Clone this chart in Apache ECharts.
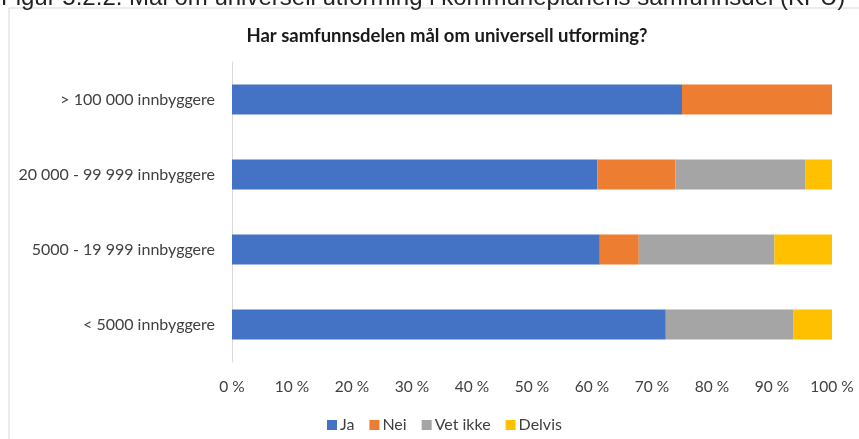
<!DOCTYPE html>
<html lang="no">

<head>
    <meta charset="UTF-8">
    <title>Universell utforming</title>
    <style>
        * {
            margin: 0;
            padding: 0;
        }

        .box {
            width: 859px;
            height: 439px;
        }
    </style>
</head>

<body>
    <div class="box"></div>

    <script src="https://cdn.jsdelivr.net/npm/echarts@6/dist/echarts.min.js"></script>
    <script>
        var categories = ['> 100 000 innbyggere', '20 000 - 99 999 innbyggere', '5000 - 19 999 innbyggere', '< 5000 innbyggere'];
        var ja = [75, 60.9, 61.3, 72.3];
        var nei = [25, 13.0, 6.5, 0];
        var vetIkke = [0, 21.7, 22.6, 21.3];
        var delvis = [0, 4.4, 9.6, 6.4];
        var seriesNames = ['Ja', 'Nei', 'Vet ikke', 'Delvis'];
        var colors = ['#4472c4', '#ed7d31', '#a5a5a5', '#ffc000'];

        var chart = echarts.init(document.querySelector('.box'));
        var font = 'Lato, "Open Sans", sans-serif';

        function makeSeries(name, data) {
            return {
                name: name,
                type: 'bar',
                stack: 'total',
                barWidth: 30,
                data: data
            };
        }

        var option = {
            color: colors,
            animation: false,
            title: {
                text: 'Har samfunnsdelen mål om universell utforming?',
                left: 442,
                textAlign: 'center',
                top: 22,
                textStyle: {
                    fontFamily: font,
                    fontSize: 18.5,
                    fontWeight: 'bold',
                    color: '#1a1a1a'
                }
            },
            graphic: [
                {
                    // figure caption, cut off at the top edge
                    type: 'text',
                    left: 1,
                    top: -14,
                    style: {
                        text: 'Figur 5.2.2. Mål om universell utforming i kommuneplanens samfunnsdel (KPU)',
                        font: '24px "Liberation Sans", Arial, sans-serif',
                        fill: '#222'
                    }
                },
                {
                    type: 'rect',
                    shape: { x: 9, y: 8, width: 900, height: 500 },
                    style: { fill: 'none', stroke: '#d9d9d9', lineWidth: 1 },
                    z: -1
                }
            ],
            legend: {
                data: seriesNames,
                left: 322,
                top: 412,
                itemWidth: 10,
                itemHeight: 10,
                itemGap: 15,
                icon: 'rect',
                textStyle: {
                    fontFamily: font,
                    fontSize: 16,
                    color: '#404040',
                    padding: [0, 0, 0, -2]
                }
            },
            grid: {
                left: 232,
                right: 27,
                top: 62,
                bottom: 77
            },
            xAxis: {
                type: 'value',
                min: 0,
                max: 100,
                interval: 10,
                axisLine: { show: false },
                axisTick: { show: false },
                splitLine: { show: false },
                axisLabel: {
                    margin: 17,
                    formatter: '{value} %',
                    fontFamily: font,
                    fontSize: 15.5,
                    color: '#404040'
                }
            },
            yAxis: {
                type: 'category',
                data: categories,
                inverse: true,
                axisLine: { lineStyle: { color: '#d9d9d9' } },
                axisTick: { show: false },
                axisLabel: {
                    margin: 17,
                    fontFamily: font,
                    fontSize: 16,
                    color: '#404040'
                }
            },
            series: [
                makeSeries('Ja', ja),
                makeSeries('Nei', nei),
                makeSeries('Vet ikke', vetIkke),
                makeSeries('Delvis', delvis)
            ]
        };

        chart.setOption(option);
    </script>
</body>

</html>
